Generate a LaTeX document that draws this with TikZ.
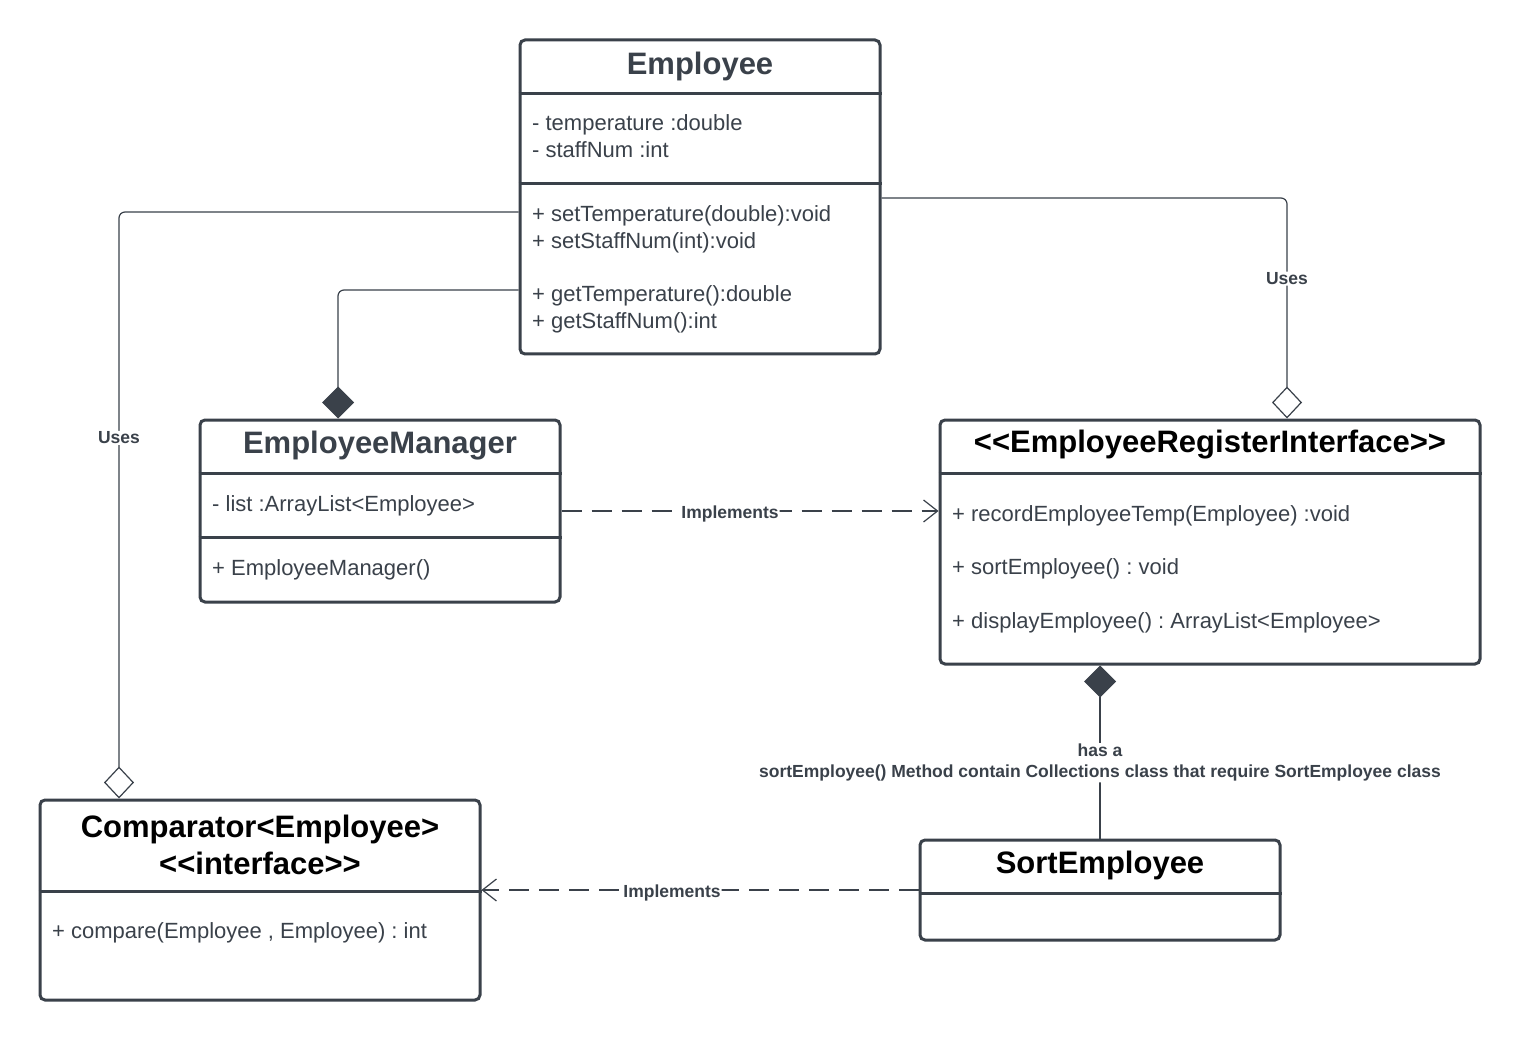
\documentclass[tikz,border=0pt]{standalone}
\usepackage{fontspec}
\setmainfont{Liberation Sans}
\usetikzlibrary{arrows.meta}
\frenchspacing

\begin{document}
\begin{tikzpicture}[x=1pt,y=-1pt,
  classbox/.style={draw=umlgray,line width=3pt,rounded corners=5pt,inner sep=0},
  divider/.style={draw=umlgray,line width=3pt},
  classname/.style={font=\bfseries\fontsize{31}{37}\selectfont,text=umlgray,align=center,yshift=-3pt},
  member/.style={anchor=west,inner sep=0,text height=16pt,text depth=5pt,text=umlgray,font=\fontsize{22}{27}\selectfont,yshift=-3pt},
  link/.style={draw=umlgray,line width=1.2pt,rounded corners=6pt},
  linklabel/.style={fill=white,inner sep=1pt,text=umlgray,font=\bfseries\fontsize{17.5}{21}\selectfont,align=center,yshift=-3pt},
  implements/.style={link,dash pattern=on 20pt off 10pt,-{Straight Barb[length=14pt,width=22pt]}},
  aggregation/.style={link,-{Diamond[open,length=32pt,width=30pt]}},
  composition/.style={link,-{Diamond[length=32pt,width=32pt]}}]
\definecolor{umlgray}{HTML}{3A414A}
\fill[white] (0,0) rectangle (1520,1040);
\useasboundingbox (0,0) rectangle (1520,1040);

% class boxes
\node [classbox,minimum width=360,minimum height=314] (emp) at (700,197) {};
\node [classbox,minimum width=360,minimum height=182] (mgr) at (380,511) {};
\node [classbox,minimum width=540,minimum height=244] (reg) at (1210,542) {};
\node [classbox,minimum width=440,minimum height=200] (comp) at (260,900) {};
\node [classbox,minimum width=360,minimum height=100] (sort) at (1100,890) {};

% compartments
\foreach \cls/\y in {emp/94,emp/184,mgr/473,mgr/537,reg/473,comp/891,sort/893}
  {  \draw [divider] (\cls.west |- 0,\y) -- (\cls.east |- 0,\y);}

% names
\node [classname] (empname) at (700,63) {Employee};
\node [classname] (mgrname) at (380,443) {EmployeeManager};
\node [classname,text=black] (regname) at (1210,442) {<\kern0pt<EmployeeRegisterInterface>\kern0pt>};
\node [classname,text=black] (compname) at (260,842) {Comparator<Employee>\\<\kern0pt<interface>\kern0pt>};
\node [classname,text=black] (sortname) at (1100,862) {SortEmployee};

% members
\foreach \txt/\y [count=\i] in {- temperature :double/122,- staffNum :int/149,
    + setTemperature(double):void/213,+ setStaffNum(int):void/240,
    + getTemperature():double/293,+ getStaffNum():int/320}
  {  \node [member] (empm\i) at (532,\y) {\txt};}
\node [member] (mgrm1) at (212,503) {- list :ArrayList<Employee>};
\node [member] (mgrm2) at (212,567) {+ EmployeeManager()};
\foreach \txt/\y [count=\i] in {+ recordEmployeeTemp(Employee) :void/513,
    + sortEmployee() : void/566,+ displayEmployee() : ArrayList<Employee>/620}
  {  \node [member] (regm\i) at (952,\y) {\txt};}
\node [member] (compm1) at (52,930) {+ compare(Employee , Employee) : int};

% relations
\draw [aggregation] (emp.west |- 0,212) -| node [linklabel,pos=0.69] (uses1) {Uses} (119,0 |- comp.north);
\draw [composition] (emp.west |- 0,290) -| (338,0 |- mgr.north);
\draw [aggregation] (emp.east |- 0,198) -| node [linklabel,pos=0.676] (uses2) {Uses} (1287,0 |- reg.north);
\draw [implements] (mgr.east) -- node [linklabel,pos=0.447] (impl1) {Implements} (reg.west |- mgr.east);
\draw [composition] (sort.north) -- node [linklabel,pos=0.455] (hasa) {has a\\sortEmployee() Method contain Collections class that require SortEmployee class} (sort.north |- reg.south);
\draw [implements] (sort.west) -- node [linklabel,pos=0.564] (impl2) {Implements} (comp.east |- sort.west);
\end{tikzpicture}
\end{document}
